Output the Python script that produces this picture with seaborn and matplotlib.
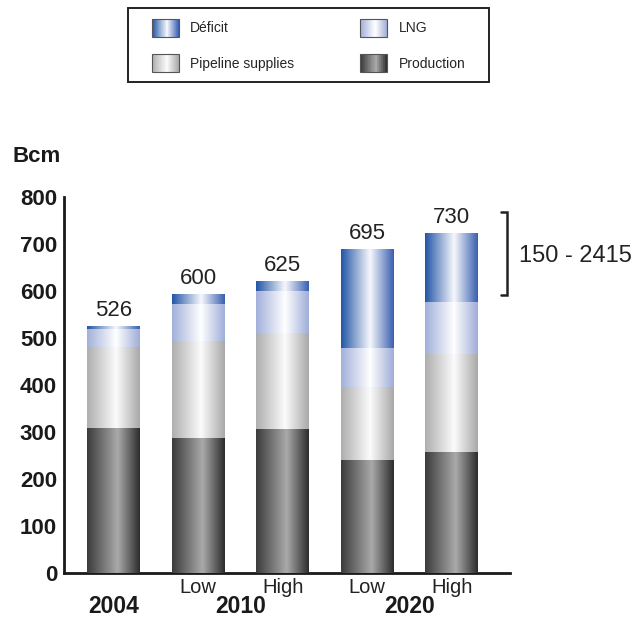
import numpy as np
import pandas as pd
import matplotlib
matplotlib.use("Agg")
import matplotlib.pyplot as plt
from matplotlib.colors import LinearSegmentedColormap
from matplotlib.legend_handler import HandlerBase
from matplotlib.patches import Patch, Rectangle
import seaborn as sns

sns.set_style("white")
plt.rcParams["font.family"] = ["Liberation Sans", "DejaVu Sans"]

# data (Bcm)
bars = ["2004", "2010 Low", "2010 High", "2020 Low", "2020 High"]
scenario = ["", "Low", "High", "Low", "High"]
years = ["2004", "2010", "2020"]
year_pos = [0, 1.5, 3.5]
production = [309, 287, 306, 240, 257]
pipeline = [172, 207, 205, 156, 209]
lng = [38, 78, 89, 83, 111]
deficit = [7, 22, 21, 210, 146]
total_labels = ["526", "600", "625", "695", "730"]
range_label = "150 - 2415"

# horizontal gradient stops for each layer (cylinder look)
grads = {
    "Déficit": [(0, "#2255a6"), (0.55, "#f6f8fc"), (1, "#3a5fb0")],
    "LNG": [(0, "#a2b0da"), (0.55, "#ffffff"), (1, "#9fadd8")],
    "Pipeline supplies": [(0, "#aeaeae"), (0.55, "#fbfbfb"), (1, "#a8a8a8")],
    "Production": [(0, "#3b3b3b"), (0.58, "#aaaaaa"), (1, "#2c2c2c")],
}


def grad_img(stops, n=256):
    cmap = LinearSegmentedColormap.from_list("g", stops)
    return cmap(np.linspace(0, 1, n))[np.newaxis, :, :]


class GradientHandler(HandlerBase):
    def __init__(self, stops):
        super().__init__()
        self.cols = grad_img(stops, 40)[0]

    def create_artists(self, legend, orig_handle, xdescent, ydescent,
                       width, height, fontsize, trans):
        n = len(self.cols)
        arts = []
        for i in range(n):
            arts.append(Rectangle((-xdescent + i * width / n, -ydescent),
                                  width / n * 1.1, height, facecolor=self.cols[i],
                                  edgecolor="none", transform=trans))
        arts.append(Rectangle((-xdescent, -ydescent), width, height,
                              facecolor="none", edgecolor="#555555", lw=0.8,
                              transform=trans))
        return arts


df = pd.DataFrame({"bar": bars, "Production": production,
                   "Pipeline supplies": pipeline, "LNG": lng, "Déficit": deficit})
stack = ["Production", "Pipeline supplies", "LNG", "Déficit"]
tops = df[stack].cumsum(axis=1)
tops["bar"] = bars

fig = plt.figure(figsize=(6.35, 6.19), dpi=100)
ax = fig.add_axes([64 / 635, 46 / 619, 446 / 635, 376 / 619])

# overlay cumulative bars, tallest first, then paint gradients clipped to them
for z, name in enumerate(stack[::-1]):
    n0 = len(ax.patches)
    sns.barplot(data=tops, x="bar", y=name, order=bars, color="white",
                width=0.627, errorbar=None, ax=ax)
    img = grad_img(grads[name])
    for p in ax.patches[n0:]:
        p.set_facecolor("none")
        p.set_linewidth(0)
        x, y, w, h = p.get_x(), p.get_y(), p.get_width(), p.get_height()
        im = ax.imshow(img, extent=(x, x + w, y, y + h), aspect="auto",
                       interpolation="bicubic", zorder=2 + z)
        im.set_clip_path(p)

ax.set_xlim(-0.59, 4.69)
ax.set_ylim(0, 800)
ax.set_yticks(range(0, 900, 100))
ax.set_yticklabels([str(v) for v in range(0, 900, 100)], fontsize=16,
                   fontweight="bold", color="#1a1a1a")
ax.set_xticks([])
ax.set_xlabel("")
ax.set_ylabel("")
ax.tick_params(axis="y", length=0, pad=5)
sns.despine(ax=ax)
for s in ["left", "bottom"]:
    ax.spines[s].set_linewidth(2)
    ax.spines[s].set_color("#1a1a1a")

# totals above bars
for i, lab in enumerate(total_labels):
    ax.annotate(lab, (i, tops["Déficit"][i]), xytext=(0, 10),
                textcoords="offset pixels", ha="center", va="baseline",
                fontsize=16, color="#222222")

# scenario and year labels
for i, s in enumerate(scenario):
    if s:
        ax.annotate(s, (i, 0), xycoords=("data", "axes fraction"),
                    xytext=(0, -20), textcoords="offset pixels", ha="center",
                    va="baseline", fontsize=14.5, color="#222222",
                    annotation_clip=False)
for xp, yr in zip(year_pos, years):
    ax.annotate(yr, (xp, 0), xycoords=("data", "axes fraction"),
                xytext=(0, -40), textcoords="offset pixels", ha="center",
                va="baseline", fontsize=16.5, fontweight="bold", color="#1a1a1a",
                annotation_clip=False)

# range bracket on the right
ax.plot([4.58, 4.66, 4.66, 4.58], [768, 768, 591, 591], color="#222222",
        lw=1.8, clip_on=False, solid_joinstyle="miter")
ax.text(4.795, 662, range_label, fontsize=17, color="#222222",
        va="baseline", ha="left", clip_on=False)

fig.text(13 / 635, 1 - 157 / 619, "Bcm", fontsize=16, fontweight="bold",
         va="center", ha="left", color="#1a1a1a")

# legend
order = ["Déficit", "Pipeline supplies", "LNG", "Production"]
handles = [Patch(label=n) for n in order]
hmap = {h: GradientHandler(grads[h.get_label()]) for h in handles}
fig.legend(handles=handles, handler_map=hmap, loc="upper left",
           bbox_to_anchor=(152 / 635, 1 - 19 / 619), ncol=2, frameon=False,
           fontsize=10, handlelength=1.95, handleheight=1.6,
           handletextpad=0.8, columnspacing=4.75, labelspacing=1.25,
           borderpad=0, borderaxespad=0)
fig.add_artist(Rectangle((128 / 635, 1 - 82 / 619), 361 / 635, 74 / 619,
                         transform=fig.transFigure, fill=False, lw=1.4,
                         edgecolor="#222222"))

fig.savefig("out.png", dpi=100)
